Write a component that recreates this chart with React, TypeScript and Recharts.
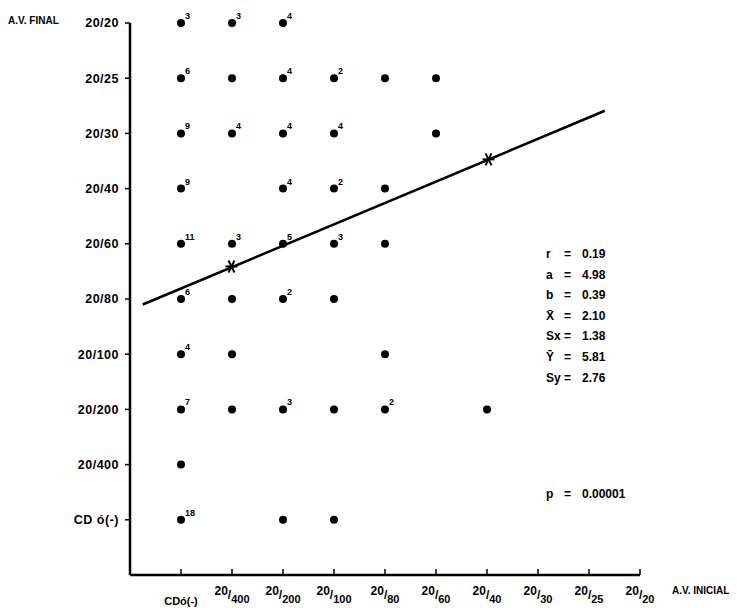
import React from "react";
import {
  ScatterChart,
  Scatter,
  XAxis,
  YAxis,
  ReferenceLine,
} from "recharts";

// category labels, index 0 = value 1
const xLabels = ["CDó(-)", "20/400", "20/200", "20/100", "20/80", "20/60", "20/40", "20/30", "20/25", "20/20"];
const yLabels = ["CD ó(-)", "20/400", "20/200", "20/100", "20/80", "20/60", "20/40", "20/30", "20/25", "20/20"];

// [initial acuity, final acuity, count label]
const cases: [number, number, string][] = [
  [1, 10, "3"], [2, 10, "3"], [3, 10, "4"],
  [1, 9, "6"], [2, 9, ""], [3, 9, "4"], [4, 9, "2"], [5, 9, ""], [6, 9, ""],
  [1, 8, "9"], [2, 8, "4"], [3, 8, "4"], [4, 8, "4"], [6, 8, ""],
  [1, 7, "9"], [3, 7, "4"], [4, 7, "2"], [5, 7, ""],
  [1, 6, "11"], [2, 6, "3"], [3, 6, "5"], [4, 6, "3"], [5, 6, ""],
  [1, 5, "6"], [2, 5, ""], [3, 5, "2"], [4, 5, ""],
  [1, 4, "4"], [2, 4, ""], [5, 4, ""],
  [1, 3, "7"], [2, 3, ""], [3, 3, "3"], [4, 3, ""], [5, 3, "2"], [7, 3, ""],
  [1, 2, ""],
  [1, 1, "18"], [3, 1, ""], [4, 1, ""],
];

const regressionLine = [
  { x: 0.25, y: 4.9 },
  { x: 9.31, y: 8.41 },
];

const starMarks = [
  { x: 1.99, y: 5.59 },
  { x: 7.03, y: 7.53 },
];

const statNames = ["r", "a", "b", "X̄", "Sx", "Ȳ", "Sy"];
const statValues = ["0.19", "4.98", "0.39", "2.10", "1.38", "5.81", "2.76"];
const pValue = "0.00001";

const ticks = [1, 2, 3, 4, 5, 6, 7, 8, 9, 10];
const points = cases.map(([x, y, n]) => ({ x, y, n }));

const FONT = "'Liberation Sans', Arial, sans-serif";

const Dot = (props: any) => {
  const { cx, cy, payload } = props;
  return (
    <g>
      <circle cx={cx} cy={cy} r={4} fill="#000" />
      {payload.n ? (
        <text x={cx + 4} y={cy - 4} fontSize={9} fontWeight="bold" fontFamily={FONT} fill="#000">
          {payload.n}
        </text>
      ) : null}
    </g>
  );
};

const Star = (props: any) => {
  const { cx, cy } = props;
  const s = 6;
  return (
    <g stroke="#000" strokeWidth={2}>
      <line x1={cx - s} y1={cy} x2={cx + s} y2={cy} />
      <line x1={cx - s / 2} y1={cy - s} x2={cx + s / 2} y2={cy + s} />
      <line x1={cx + s / 2} y1={cy - s} x2={cx - s / 2} y2={cy + s} />
    </g>
  );
};

// x tick: small mark pointing up, fraction-style label below
const XTick = (props: any) => {
  const { x, y, payload } = props;
  const label = xLabels[payload.value - 1] || "";
  const parts = label.split("/");
  return (
    <g>
      <line x1={x} y1={y} x2={x} y2={y - 6} stroke="#000" strokeWidth={1.5} />
      {parts.length === 2 ? (
        <text x={x} y={y + 20} textAnchor="middle" fontSize={12} fontWeight="bold" fontFamily={FONT} fill="#000">
          <tspan>{parts[0]}</tspan>
          <tspan dy={4}>/</tspan>
          <tspan dy={4} fontSize={11}>{parts[1]}</tspan>
        </text>
      ) : (
        <text x={x} y={y + 30} textAnchor="middle" fontSize={11} fontWeight="bold" fontFamily={FONT} fill="#000">
          {label}
        </text>
      )}
    </g>
  );
};

export default function App() {
  return (
    <div style={{ position: "absolute", left: 0, top: 0, width: 737, height: 608, background: "#fff", fontFamily: FONT }}>
      <ScatterChart width={737} height={608} margin={{ top: 23, right: 97, bottom: 0, left: 70 }}>
        <XAxis
          type="number"
          dataKey="x"
          domain={[0, 10]}
          ticks={ticks}
          interval={0}
          tick={<XTick />}
          tickLine={false}
          tickSize={0}
          tickMargin={0}
          height={33}
          axisLine={{ stroke: "#000", strokeWidth: 2.5 }}
        />
        <YAxis
          type="number"
          dataKey="y"
          domain={[0, 10]}
          ticks={ticks}
          interval={0}
          width={60}
          tickFormatter={(v: number) => yLabels[v - 1]}
          tick={{ fill: "#000", fontSize: 12.5, fontWeight: "bold", fontFamily: FONT, letterSpacing: 0.5 }}
          tickSize={5}
          tickMargin={6}
          tickLine={{ stroke: "#000", strokeWidth: 1.5 }}
          axisLine={{ stroke: "#000", strokeWidth: 2.5 }}
        />
        <ReferenceLine segment={regressionLine} stroke="#000" strokeWidth={2.5} ifOverflow="visible" />
        <Scatter data={points} shape={<Dot />} isAnimationActive={false} />
        <Scatter data={starMarks} shape={<Star />} isAnimationActive={false} />
      </ScatterChart>

      <div style={{ position: "absolute", left: 8, top: 15, fontSize: 10, fontWeight: "bold" }}>A.V. FINAL</div>
      <div style={{ position: "absolute", left: 672, top: 585, fontSize: 10, fontWeight: "bold" }}>A.V. INICIAL</div>

      <div style={{ position: "absolute", left: 546, top: 244, fontSize: 12, fontWeight: "bold", lineHeight: "20.6px" }}>
        {statNames.map((name, i) => (
          <div key={name} style={{ display: "flex" }}>
            <span style={{ width: 18 }}>{name}</span>
            <span style={{ width: 18 }}>=</span>
            <span>{statValues[i]}</span>
          </div>
        ))}
      </div>
      <div style={{ position: "absolute", left: 546, top: 487, fontSize: 12, fontWeight: "bold", display: "flex" }}>
        <span style={{ width: 18 }}>p</span>
        <span style={{ width: 18 }}>=</span>
        <span>{pValue}</span>
      </div>
    </div>
  );
}
